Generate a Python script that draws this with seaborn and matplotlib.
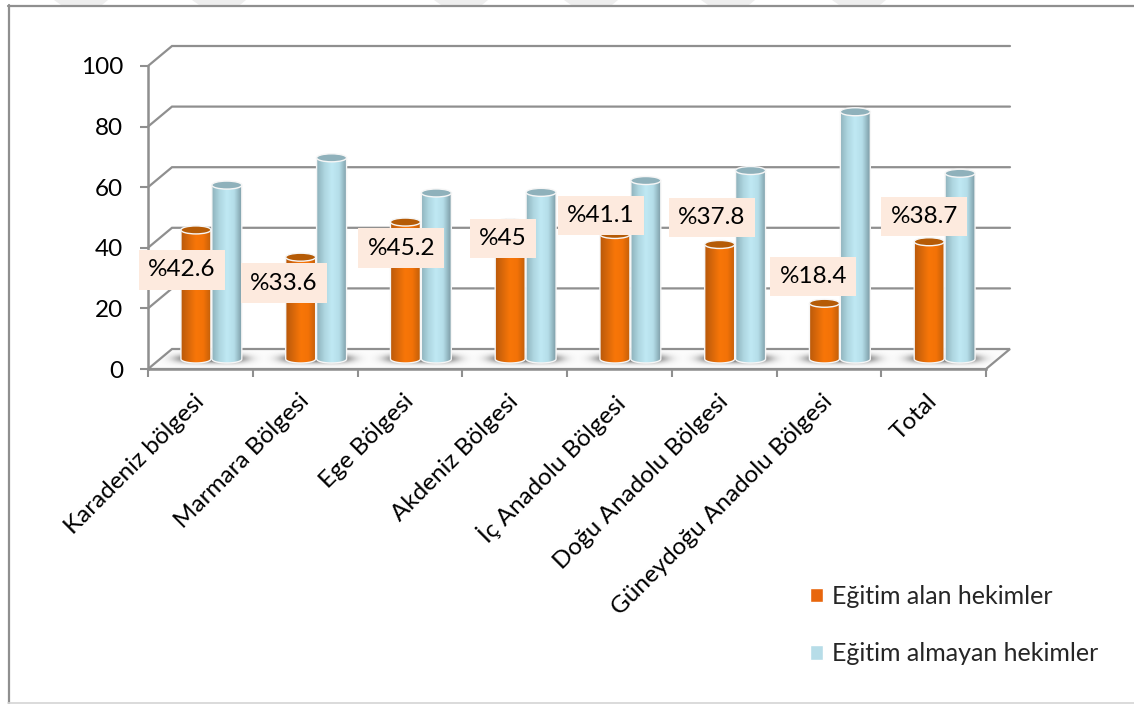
import numpy as np
import pandas as pd
import matplotlib
matplotlib.use("Agg")
import matplotlib.pyplot as plt
from matplotlib.patches import Ellipse, PathPatch, Polygon
from matplotlib.path import Path
from matplotlib.colors import LinearSegmentedColormap
from matplotlib.transforms import ScaledTranslation
import seaborn as sns

categories = ["Karadeniz bölgesi", "Marmara Bölgesi", "Ege Bölgesi", "Akdeniz Bölgesi",
              "İç Anadolu Bölgesi", "Doğu Anadolu Bölgesi", "Güneydoğu Anadolu Bölgesi", "Total"]
egitim_alan = [42.6, 33.6, 45.2, 45.0, 41.1, 37.8, 18.4, 38.7]
egitim_almayan = [57.4, 66.4, 54.8, 55.0, 58.9, 62.2, 81.6, 61.3]
value_labels = ["%42.6", "%33.6", "%45.2", "%45", "%41.1", "%37.8", "%18.4", "%38.7"]
series_names = ["Eğitim alan hekimler", "Eğitim almayan hekimler"]
y_ticks = [0, 20, 40, 60, 80, 100]

label_dx = [-14, -17, -4, -7, -14, -8, -11, -5]
label_dy = [-40, -26, -26, -16, 19, 27, 27, 25]

W, H = 1134, 704
sns.set_theme(style="white")
plt.rcParams["font.family"] = ["Lato", "DejaVu Sans"]
GREY = "#8f8f8f"
FS = 17.5

fig = plt.figure(figsize=(W / 100, H / 100), dpi=100, facecolor="white")


def axes_px(x0, x1, ytop, ybot, **kw):
    return fig.add_axes([x0 / W, 1 - ybot / H, (x1 - x0) / W, (ybot - ytop) / H], **kw)


# page frame and the faint watermark along the top edge
bg = fig.add_axes([0, 0, 1, 1], zorder=0)
bg.set_xlim(0, W)
bg.set_ylim(H, 0)
bg.axis("off")
for sx in [54, 192, 434, 564, 701, 832]:
    bg.add_patch(Polygon([[sx, 0], [sx + 54, 0], [sx + 48, 5], [sx + 7, 5]], fc="#eeeeee", ec="none"))
bg.plot([8.5, 8.5], [5, 703], color="#8f8f8f", lw=1.6)
bg.plot([8, W], [5.5, 5.5], color="#8f8f8f", lw=1.6)
bg.plot([8, W], [702.5, 702.5], color="#d4d4d4", lw=1.2)

# chart walls and floor
ax = axes_px(148, 986, 66, 369, zorder=1)
ax.patch.set_alpha(0)
ax.set_xlim(-0.5, 7.5)
ax.set_ylim(0, 100)
depth_x = 24 / 104.75
depth_y = 20 / 3.03
ax.add_patch(Polygon([[-0.5, 0], [7.5, 0], [7.5 + depth_x, depth_y], [-0.5 + depth_x, depth_y]],
                     closed=True, fc="#fbfbfb", ec=GREY, lw=1.6, clip_on=False, zorder=1))
for yv in y_ticks[1:]:
    ax.plot([-0.5, -0.5 + depth_x, 7.5 + depth_x], [yv, yv + depth_y, yv + depth_y],
            color=GREY, lw=1.6, clip_on=False, zorder=1, solid_joinstyle="miter")
for s in ["top", "right"]:
    ax.spines[s].set_visible(False)
for s in ["left", "bottom"]:
    ax.spines[s].set_color(GREY)
    ax.spines[s].set_linewidth(1.8)
    ax.spines[s].set_zorder(2)
ax.set_yticks(y_ticks)
ax.set_xticks(np.arange(-0.5, 8, 1))
ax.set_xticklabels([])
ax.set_xticks(np.arange(8), labels=categories, minor=True)
ax.tick_params(axis="y", which="major", left=True, length=6, width=1.5, color=GREY,
               labelsize=FS, labelcolor="black", pad=12)
ax.tick_params(axis="x", which="major", bottom=True, length=6, width=1.5, color=GREY)
ax.tick_params(axis="x", which="minor", bottom=False, labelsize=FS, labelcolor="black", pad=11.4)
shift = ScaledTranslation(-7 / 100, 0, fig.dpi_scale_trans)
for t in ax.get_xticklabels(minor=True):
    t.set_rotation(45)
    t.set_ha("right")
    t.set_rotation_mode("anchor")
    t.set_transform(t.get_transform() + shift)

# bars (the axes reach a little below zero so the rounded feet and shadows show)
low = -5
axb = axes_px(159, 997, 56, 359 - low * 3.03, zorder=2)
axb.patch.set_alpha(0)
df = pd.DataFrame({
    "bolge": categories * 2,
    "deger": egitim_alan + egitim_almayan,
    "seri": [series_names[0]] * 8 + [series_names[1]] * 8,
})
sns.barplot(data=df, x="bolge", y="deger", hue="seri", hue_order=series_names, saturation=1,
            palette=["#e8660c", "#b7dde8"], width=0.59, gap=0.03, ax=axb, zorder=3, legend=True)
handles, labels = axb.get_legend_handles_labels()
axb.get_legend().remove()

grad = [
    LinearSegmentedColormap.from_list("o", ["#b9590a", "#d9680a", "#f87608", "#f37207", "#c4600a"]),
    LinearSegmentedColormap.from_list("b", ["#8fb3bd", "#aed6e0", "#c0e9f4", "#b4dde8", "#7e9ea8"]),
]
tops = ["#b55b06", "#8fb1bb"]
ell = 8 / 3.03
for g_i, cont in enumerate(axb.containers):
    for bar in cont:
        x, w, h = bar.get_x(), bar.get_width(), bar.get_height()
        xc = x + w / 2
        bar.set_visible(False)
        t = np.linspace(np.pi, 2 * np.pi, 30)
        verts = [(x, h), *zip(xc + w / 2 * np.cos(t), ell / 2 * np.sin(t)), (x + w, h), (x, h)]
        body = Path(verts, closed=False)
        im = axb.imshow(np.linspace(0, 1, 64)[None, :], cmap=grad[g_i], aspect="auto",
                        extent=(x, x + w, -ell, h), zorder=4, interpolation="bilinear")
        im.set_clip_path(PathPatch(body, transform=axb.transData))
        axb.add_patch(PathPatch(body, fc="none", ec="#f6f6f6", lw=1.0, zorder=5))
        axb.add_patch(Ellipse((xc, h), w, ell, fc=tops[g_i], ec="#f6f6f6", lw=1.0, zorder=6))

# soft floor shadow
gx, gy = np.meshgrid(np.linspace(-1, 1, 120), np.linspace(-1, 1, 30))
sh = np.zeros((30, 120, 4))
sh[..., :3] = 0.35
sh[..., 3] = np.clip(1.1 * np.exp(-(gx ** 4 * 5 + gy ** 2 * 4)), 0, 0.85)
for i in range(len(categories)):
    axb.imshow(sh, extent=(i - 0.50, i + 0.50, -2.6, 3.0), aspect="auto", zorder=2, interpolation="bilinear")

axb.set_xlim(-0.5, 7.5)
axb.set_ylim(low, 100)
axb.axis("off")

# value labels
for i, bar in enumerate(axb.containers[0]):
    axb.annotate(value_labels[i], xy=(bar.get_x() + bar.get_width() / 2, bar.get_height()),
                 xytext=(label_dx[i], label_dy[i]), textcoords="offset pixels",
                 ha="center", va="center", fontsize=FS, color="black", zorder=10,
                 bbox=dict(boxstyle="square,pad=0.38", fc="#fdeade", ec="none"))

fig.legend(handles, labels, loc="upper left", bbox_to_anchor=(810 / W, 1 - 585 / H),
           frameon=False, fontsize=18, handlelength=0.52, handleheight=0.52, handletextpad=0.36,
           labelspacing=1.37, borderpad=0, borderaxespad=0)

fig.savefig("out.png", dpi=100, facecolor="white")
